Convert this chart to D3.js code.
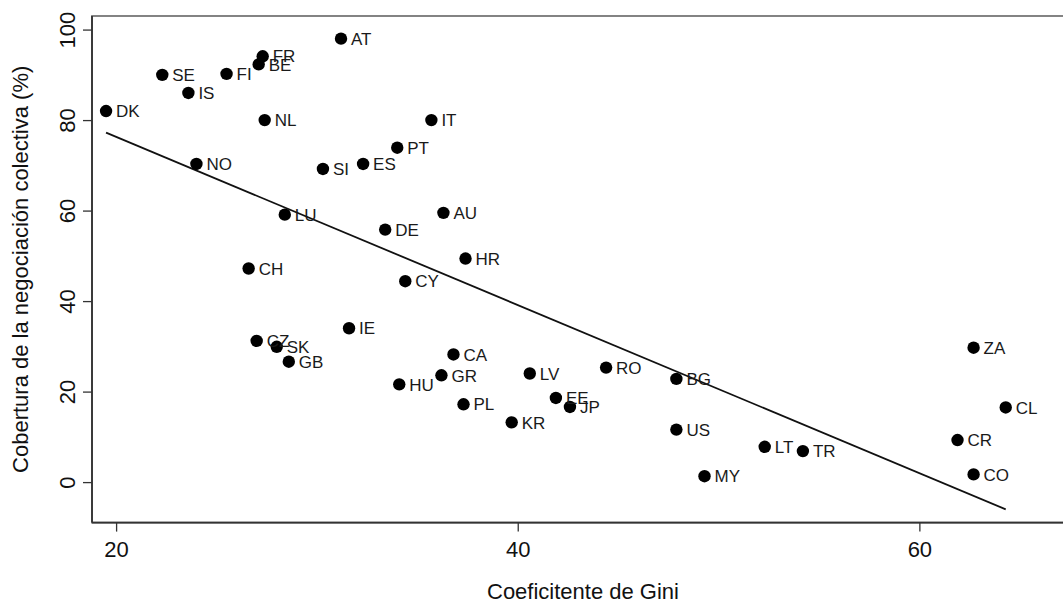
<!DOCTYPE html>
<html>
<head>
<meta charset="utf-8">
<script src="https://cdn.jsdelivr.net/npm/d3@7"></script>
<style>
  body { margin: 0; background: #fff; }
  text { font-family: "Liberation Sans", Arial, sans-serif; }
</style>
</head>
<body>
<div id="chart-area"></div>
<script>
// country codes, Gini coefficient, collective bargaining coverage (%)
var codes = ["DK","SE","IS","FI","FR","BE","NL","AT","NO","PT","ES","SI","IT",
             "AU","DE","HR","CY","LU","CH","IE","CZ","SK","GB","HU","GR","CA",
             "PL","LV","RO","BG","EE","JP","KR","US","MY","LT","TR","ZA","CL",
             "CR","CO"];
var gini = [19.5, 22.3, 23.6, 25.5, 27.3, 27.1, 27.4, 31.2, 24.0, 34.0, 32.3, 30.3, 35.7,
            36.3, 33.4, 37.4, 34.4, 28.4, 26.6, 31.6, 27.0, 28.0, 28.6, 34.1, 36.2, 36.8,
            37.3, 40.6, 44.4, 47.9, 41.9, 42.6, 39.7, 47.9, 49.3, 52.3, 54.2, 62.7, 64.3,
            61.9, 62.7];
var coverage = [82.0, 90.0, 86.0, 90.2, 94.1, 92.3, 80.0, 98.0, 70.3, 73.9, 70.3, 69.2, 80.0,
                59.5, 55.8, 49.4, 44.4, 59.1, 47.2, 34.0, 31.2, 29.9, 26.6, 21.6, 23.6, 28.2,
                17.2, 24.0, 25.3, 22.8, 18.6, 16.6, 13.2, 11.6, 1.3, 7.8, 6.85, 29.7, 16.5,
                9.3, 1.7];
var xTicks = [20, 40, 60];
var yTicks = [0, 20, 40, 60, 80, 100];
// fitted line
var fitIntercept = 113.45;
var fitSlope = -1.858;

var data = codes.map((c, i) => ({ code: c, gini: gini[i], cov: coverage[i] }));

var W = 1063, H = 604;
var plotL = 92, plotR = 1074, plotT = 16, plotB = 522.6;

var svg = d3.select("#chart-area")
  .append("svg")
    .attr("width", W)
    .attr("height", H)
    .style("display", "block");

var x = d3.scaleLinear().domain([18.8, 67.7]).range([plotL, plotR]);
var y = d3.scaleLinear().domain([-8.95, 103]).range([plotB, plotT]);

// box
svg.append("rect")
    .attr("x", plotL)
    .attr("y", plotT)
    .attr("width", plotR - plotL)
    .attr("height", plotB - plotT)
    .attr("fill", "none")
    .attr("stroke", "#777")
    .attr("stroke-width", 1.8);

var xAxis = svg.append("g")
    .attr("transform", "translate(0," + plotB + ")")
    .call(d3.axisBottom(x).tickValues(xTicks).tickSize(9).tickSizeOuter(0));
xAxis.select(".domain").attr("d", "M" + plotL + ",0H" + plotR).attr("stroke", "#333").attr("stroke-width", 1.8);
xAxis.selectAll(".tick line").attr("stroke", "#333").attr("stroke-width", 1.3);
xAxis.selectAll("text")
    .attr("y", 34.6)
    .attr("dy", 0)
    .attr("font-size", "22px")
    .attr("fill", "#111");

var yAxis = svg.append("g")
    .attr("transform", "translate(" + plotL + ",0)")
    .call(d3.axisLeft(y).tickValues(yTicks).tickSize(9).tickSizeOuter(0));
yAxis.select(".domain").attr("d", "M0," + plotT + "V" + plotB).attr("stroke", "#333").attr("stroke-width", 1.8);
yAxis.selectAll(".tick line").attr("stroke", "#333").attr("stroke-width", 1.3);
yAxis.selectAll("text")
    .attr("transform", "rotate(-90)")
    .attr("x", 0)
    .attr("y", -17)
    .attr("dy", 0)
    .attr("text-anchor", "middle")
    .attr("font-size", "22px")
    .attr("fill", "#111");

// regression line
var x0 = d3.min(gini), x1 = d3.max(gini);
svg.append("line")
    .attr("x1", x(x0))
    .attr("y1", y(fitIntercept + fitSlope * x0))
    .attr("x2", x(x1))
    .attr("y2", y(fitIntercept + fitSlope * x1))
    .attr("stroke", "#111")
    .attr("stroke-width", 1.8);

// points
svg.append("g").selectAll("circle").data(data)
  .enter().append("circle")
    .attr("cx", d => x(d.gini))
    .attr("cy", d => y(d.cov))
    .attr("r", 6.2)
    .attr("fill", "#000");

// labels
svg.append("g").selectAll("text").data(data)
  .enter().append("text")
    .attr("x", d => x(d.gini) + 10)
    .attr("y", d => y(d.cov) + 6.2)
    .attr("font-size", "17px")
    .attr("fill", "#1a1a1a")
    .text(d => d.code);

// axis titles
svg.append("text")
    .attr("x", (plotL + plotR) / 2)
    .attr("y", 599)
    .attr("font-size", "22px")
    .attr("text-anchor", "middle")
    .attr("fill", "#111")
    .text("Coeficitente de Gini");

svg.append("text")
    .attr("transform", "translate(28," + ((plotT + plotB) / 2) + ") rotate(-90)")
    .attr("font-size", "22px")
    .attr("text-anchor", "middle")
    .attr("fill", "#111")
    .text("Cobertura de la negociación colectiva (%)");
</script>
</body>
</html>
